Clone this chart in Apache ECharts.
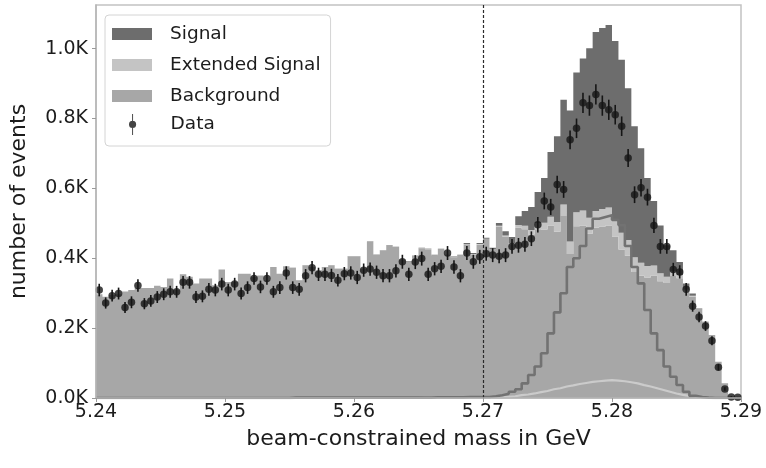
<!DOCTYPE html>
<html>
<head>
<meta charset="utf-8">
<script src="https://cdn.jsdelivr.net/npm/echarts@6/dist/echarts.min.js"></script>
<style>
  html, body { margin: 0; padding: 0; background: #ffffff; }
  #chart { width: 766px; height: 468px; }
</style>
</head>
<body>
<div id="chart"></div>
<script>
// Histogram binning of the beam-constrained mass (GeV)
const binStart = 5.24;
const binWidth = 0.0005;
const nBins = 100;
const xTickValues = [5.24, 5.25, 5.26, 5.27, 5.28, 5.29];
const yTickValues = [0, 200, 400, 600, 800, 1000];
const cutPosition = 5.27;

// Observed events per bin and their uncertainties
const dataCounts = [
  309, 272, 293, 299, 259, 274, 322, 270, 278, 289,
  297, 304, 304, 331, 331, 289, 291, 311, 309, 326,
  309, 326, 299, 316, 342, 318, 342, 304, 316, 358,
  316, 311, 350, 373, 354, 354, 351, 337, 356, 358,
  345, 366, 369, 360, 350, 350, 364, 390, 354, 389,
  399, 354, 370, 377, 415, 375, 350, 415, 390, 404,
  413, 409, 406, 409, 434, 437, 440, 456, 496, 564,
  547, 611, 597, 739, 772, 845, 837, 869, 837, 825,
  811, 778, 687, 582, 602, 575, 494, 434, 434, 368,
  361, 311, 263, 232, 206, 164, 88, 26, 3, 2
];
const dataErrors = [
  18, 16, 17, 17, 16, 17, 18, 16, 17, 17,
  17, 17, 17, 18, 18, 17, 17, 18, 18, 18,
  18, 18, 17, 18, 18, 18, 18, 17, 18, 19,
  18, 18, 19, 19, 19, 19, 19, 18, 19, 19,
  19, 19, 19, 19, 19, 19, 19, 20, 19, 20,
  20, 19, 19, 19, 20, 19, 19, 20, 20, 20,
  20, 20, 20, 20, 21, 21, 21, 21, 22, 24,
  23, 25, 24, 27, 28, 29, 29, 29, 29, 29,
  28, 28, 26, 24, 25, 24, 22, 21, 21, 19,
  19, 18, 16, 15, 14, 13, 9, 5, 2, 1
];

// Simulated components per bin
const backgroundCounts = [
  297, 290, 295, 297, 305, 309, 315, 315, 315, 321,
  318, 342, 310, 354, 347, 328, 342, 342, 323, 368,
  332, 332, 356, 356, 347, 351, 337, 375, 356, 377,
  372, 336, 379, 374, 365, 374, 379, 369, 369, 405,
  405, 369, 448, 410, 422, 436, 432, 395, 391, 407,
  428, 426, 407, 424, 407, 402, 407, 440, 410, 439,
  455, 424, 491, 462, 438, 487, 483, 468, 483, 482,
  494, 476, 521, 412, 492, 494, 470, 487, 491, 494,
  462, 425, 407, 361, 350, 345, 351, 334, 329, 349,
  343, 304, 290, 252, 217, 180, 104, 42, 4, 0
];
const extendedCounts = [
  0, 0, 0, 0, 0, 0, 0, 0, 0, 0,
  0, 0, 0, 0, 0, 0, 0, 0, 0, 0,
  0, 0, 0, 0, 0, 0, 0, 0, 0, 0,
  0, 0, 0, 0, 0, 0, 0, 0, 0, 0,
  0, 0, 0, 0, 0, 0, 0, 0, 0, 0,
  1, 1, 1, 1, 1, 1, 1, 1, 2, 2,
  1, 1, 2, 3, 5, 8, 10, 13, 17, 20,
  25, 28, 33, 36, 40, 43, 46, 48, 50, 51,
  50, 48, 45, 42, 37, 33, 28, 23, 18, 13,
  9, 6, 3, 1, 0, 0, 0, 0, 0, 0
];
const signalCounts = [
  0, 0, 0, 0, 0, 0, 0, 0, 0, 0,
  0, 0, 0, 0, 0, 0, 0, 0, 0, 0,
  0, 0, 0, 0, 0, 0, 0, 0, 0, 0,
  1, 1, 1, 1, 1, 1, 1, 1, 1, 1,
  1, 1, 1, 1, 1, 1, 1, 1, 1, 1,
  1, 1, 2, 2, 2, 2, 2, 3, 3, 3,
  3, 5, 8, 12, 18, 25, 42, 66, 90, 128,
  185, 245, 300, 375, 400, 435, 485, 513, 518, 523,
  510, 495, 435, 375, 328, 252, 185, 137, 90, 61,
  37, 18, 6, 3, 1, 0, 0, 0, 0, 0
];

const FONT = 'DejaVu Sans';
const TEXT = '#1c1c1c';
const COLOR_SIGNAL = '#6d6d6d';
const COLOR_EXTENDED = '#c4c4c4';
const COLOR_BACKGROUND = '#a7a7a7';

const edge = i => binStart + binWidth * i;
const center = i => binStart + binWidth * (i + 0.5);

// cumulative stack boundaries
const zeros = backgroundCounts.map(() => 0);
const stackBg = backgroundCounts.slice();
const stackExt = backgroundCounts.map((b, i) => b + extendedCounts[i]);
const stackSig = stackExt.map((v, i) => v + signalCounts[i]);

// A filled histogram band between two per-bin boundaries, drawn as one polygon
function bandSeries(name, lower, upper, color, z) {
  return {
    name: name,
    type: 'custom',
    coordinateSystem: 'cartesian2d',
    silent: true,
    z: z,
    itemStyle: { color: color },
    data: [[binStart, 0]],
    renderItem: function (params, api) {
      const pts = [];
      for (let i = 0; i < nBins; i++) {
        pts.push(api.coord([edge(i), upper[i]]));
        pts.push(api.coord([edge(i + 1), upper[i]]));
      }
      for (let i = nBins - 1; i >= 0; i--) {
        pts.push(api.coord([edge(i + 1), lower[i]]));
        pts.push(api.coord([edge(i), lower[i]]));
      }
      return { type: 'polygon', shape: { points: pts }, style: { fill: color } };
    }
  };
}

// Unstacked step outline of a component
function outlineSeries(values, color, width, z) {
  const pts = values.map((v, i) => [edge(i), v]);
  pts.push([edge(nBins), values[nBins - 1]]);
  return {
    type: 'line',
    step: 'end',
    silent: true,
    showSymbol: false,
    z: z,
    data: pts,
    lineStyle: { color: color, width: width },
    itemStyle: { color: color }
  };
}

const chart = echarts.init(document.getElementById('chart'), null, { renderer: 'canvas' });

const legendText = { fontFamily: FONT, fontSize: 18.5, color: TEXT, lineHeight: 20, padding: [0, 0, 0, 13] };

const option = {
  animation: false,
  backgroundColor: '#ffffff',
  grid: {
    left: 95, top: 5, width: 646, height: 393,
    show: true, borderColor: '#c2c2c2', borderWidth: 1.5, backgroundColor: 'transparent'
  },
  legend: [
    {
      // filled components; the frame is stretched to also hold the Data row
      orient: 'vertical',
      left: 105, top: 15,
      z: 20,
      backgroundColor: 'rgba(255,255,255,0.9)',
      borderColor: '#d4d4d4', borderWidth: 1, borderRadius: 4,
      padding: [9, 10, 40, 7],
      itemWidth: 40, itemHeight: 12, itemGap: 11,
      selectedMode: false,
      textStyle: legendText,
      data: [
        { name: 'Signal', icon: 'rect' },
        { name: 'Extended Signal', icon: 'rect' },
        { name: 'Background', icon: 'rect' }
      ]
    },
    {
      orient: 'vertical',
      left: 122, top: 114,
      z: 21,
      padding: [0, 10, 0, 7],
      itemWidth: 40, itemHeight: 21,
      selectedMode: false,
      textStyle: legendText,
      data: [
        { name: 'Data', icon: 'path://M2.55,0H3.45V20H2.55Z M3,6.5A3.4,3.4 0 1 1 2.99,6.5Z' }
      ]
    }
  ],
  xAxis: {
    type: 'value',
    min: 5.24, max: 5.29, interval: 0.01,
    z: 10,
    name: 'beam-constrained mass in GeV',
    nameLocation: 'middle', nameGap: 30,
    nameTextStyle: { fontFamily: FONT, fontSize: 22, color: TEXT },
    axisLine: { show: true, lineStyle: { color: '#b5b5b5', width: 1.5 } },
    axisTick: { show: true, length: 4, lineStyle: { color: '#9a9a9a' }, customValues: xTickValues },
    axisLabel: {
      fontFamily: FONT, fontSize: 19, color: TEXT, margin: 5,
      customValues: xTickValues,
      formatter: v => v.toFixed(2)
    },
    splitLine: { show: false }
  },
  yAxis: {
    type: 'value',
    min: 0, max: 1125, interval: 200,
    z: 10,
    name: 'number of events',
    nameLocation: 'middle', nameGap: 66,
    nameTextStyle: { fontFamily: FONT, fontSize: 22, color: TEXT },
    axisLine: { show: true, lineStyle: { color: '#b5b5b5', width: 1.5 } },
    axisTick: { show: true, length: 4, lineStyle: { color: '#9a9a9a' }, customValues: yTickValues },
    axisLabel: {
      fontFamily: FONT, fontSize: 19, color: TEXT, margin: 8,
      customValues: yTickValues,
      formatter: v => (v / 1000).toFixed(1) + 'K'
    },
    splitLine: { show: false }
  },
  series: [
    bandSeries('Background', zeros, stackBg, COLOR_BACKGROUND, 1),
    bandSeries('Extended Signal', stackBg, stackExt, COLOR_EXTENDED, 1),
    bandSeries('Signal', stackExt, stackSig, COLOR_SIGNAL, 1),
    outlineSeries(extendedCounts, '#cbcbcb', 2.2, 2),
    outlineSeries(signalCounts, '#727272', 2.6, 2),
    {
      type: 'custom',
      coordinateSystem: 'cartesian2d',
      silent: true,
      z: 4,
      data: dataCounts.map((c, i) => [center(i), c - dataErrors[i], c + dataErrors[i]]),
      renderItem: function (params, api) {
        const a = api.coord([api.value(0), api.value(1)]);
        const b = api.coord([api.value(0), api.value(2)]);
        return {
          type: 'line',
          shape: { x1: a[0], y1: a[1], x2: b[0], y2: b[1] },
          style: { stroke: '#151515', lineWidth: 1.6 }
        };
      }
    },
    {
      name: 'Data',
      type: 'scatter',
      z: 5,
      silent: true,
      symbol: 'circle',
      symbolSize: 7.5,
      itemStyle: { color: '#151515' },
      data: dataCounts.map((c, i) => [center(i), c]),
      markLine: {
        silent: true,
        symbol: ['none', 'none'],
        label: { show: false },
        lineStyle: { color: '#2a2a2a', type: [3, 2], width: 1.2 },
        data: [{ xAxis: cutPosition }]
      }
    }
  ]
};

chart.setOption(option);
</script>
</body>
</html>
